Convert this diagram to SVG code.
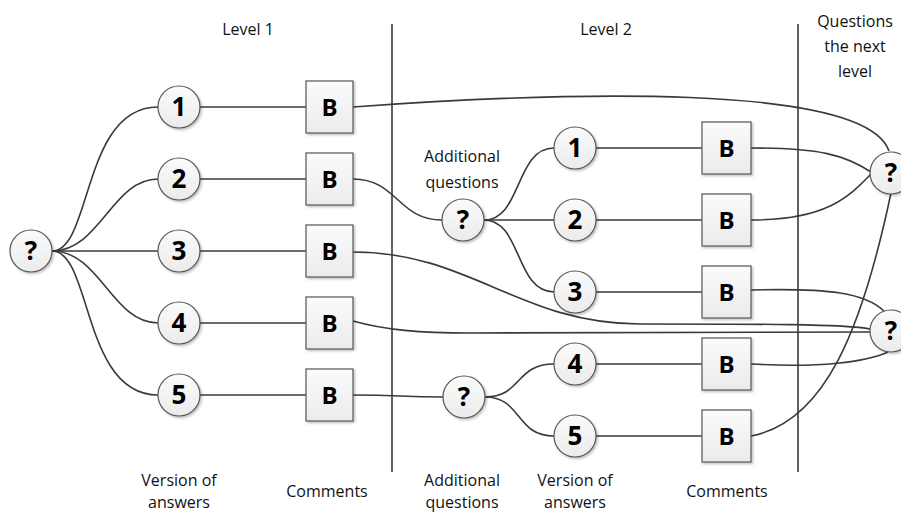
<svg xmlns="http://www.w3.org/2000/svg" width="901" height="513" viewBox="0 0 901 513">
<defs>
  <linearGradient id="gfill" x1="0" y1="0" x2="0" y2="1">
    <stop offset="0" stop-color="#fbfbfb"/>
    <stop offset="1" stop-color="#ebebeb"/>
  </linearGradient>
  <filter id="sh" x="-20%" y="-20%" width="150%" height="150%">
    <feDropShadow dx="1.5" dy="1.5" stdDeviation="1" flood-color="#000" flood-opacity="0.25"/>
  </filter>
  <style>
    .conn path, .conn line { fill: none; stroke: #3a3a3a; stroke-width: 1.6; }
    .div { stroke: #3a3a3a; stroke-width: 1.6; }
    .circ { fill: url(#gfill); stroke: #555; stroke-width: 1.2; filter: url(#sh); }
    .box { fill: url(#gfill); stroke: #555; stroke-width: 1.2; filter: url(#sh); }
    .num { font-family: "Open Sans", "Liberation Sans", sans-serif; font-weight: bold; font-size: 26px; fill: #000; text-anchor: middle; }
    .bl { font-family: "Open Sans", "Liberation Sans", sans-serif; font-weight: bold; font-size: 24px; fill: #000; text-anchor: middle; }
    .lbl { font-family: "Open Sans", "Liberation Sans", sans-serif; font-size: 16px; fill: #111; text-anchor: middle; }
  </style>
</defs>
<rect x="0" y="0" width="901" height="513" fill="#fff"/>

<g id="dividers">
  <line class="div" x1="392" y1="24" x2="392" y2="472"/>
  <line class="div" x1="798" y1="24" x2="798" y2="472"/>
</g>

<g id="labels">
  <text class="lbl" x="248" y="35">Level 1</text>
  <text class="lbl" x="606" y="35">Level 2</text>
  <text class="lbl" x="855" y="27">Questions</text>
  <text class="lbl" x="855" y="52">the next</text>
  <text class="lbl" x="855" y="77">level</text>
  <text class="lbl" x="462" y="162">Additional</text>
  <text class="lbl" x="462" y="188">questions</text>
  <text class="lbl" x="179" y="486">Version of</text>
  <text class="lbl" x="179" y="508">answers</text>
  <text class="lbl" x="327" y="497">Comments</text>
  <text class="lbl" x="462" y="486">Additional</text>
  <text class="lbl" x="462" y="508">questions</text>
  <text class="lbl" x="575" y="486">Version of</text>
  <text class="lbl" x="575" y="508">answers</text>
  <text class="lbl" x="727" y="497">Comments</text>
</g>

<g id="connectors" class="conn">
  <path d="M52,251 C92,251 82,107 158,107"/>
  <path d="M52,251 C100,251 112,179 158,179"/>
  <path d="M52,251 L158,251"/>
  <path d="M52,251 C100,251 112,323 158,323"/>
  <path d="M52,251 C92,251 82,395 158,395"/>
  <line x1="200" y1="107" x2="306" y2="107"/>
  <line x1="200" y1="179" x2="306" y2="179"/>
  <line x1="200" y1="251" x2="306" y2="251"/>
  <line x1="200" y1="323" x2="306" y2="323"/>
  <line x1="200" y1="395" x2="306" y2="395"/>
  <path d="M353,107 C560,92 865,82 889,151"/>
  <path d="M353,179 C397,179 398,220 442,220"/>
  <path d="M353,252 C470,252 520,324 640,324 C760,324 845,324 870,329"/>
  <path d="M353,321 C385,330 420,333 470,333 L870,332"/>
  <path d="M353,395 C400,395 400,397 443,397"/>
  <path d="M484,220 C522,220 515,148 554,148"/>
  <line x1="484" y1="220" x2="554" y2="220"/>
  <path d="M484,220 C522,220 515,292 554,292"/>
  <path d="M485,397 C522,397 515,364 554,364"/>
  <path d="M485,397 C522,397 515,436 554,436"/>
  <line x1="596" y1="148" x2="702" y2="148"/>
  <line x1="596" y1="220" x2="702" y2="220"/>
  <line x1="596" y1="292" x2="702" y2="292"/>
  <line x1="596" y1="364" x2="702" y2="364"/>
  <line x1="596" y1="436" x2="702" y2="436"/>
  <path d="M751,148 C820,148 845,155 871,172"/>
  <path d="M751,220 C825,220 848,198 871,174"/>
  <path d="M751,290 C830,288 865,293 884,311"/>
  <path d="M751,364 C820,368 866,362 888,352"/>
  <path d="M751,436 C825,422 862,330 891,193"/>
</g>

<g id="root-q"><circle class="circ" cx="31" cy="251" r="21"/><text class="num" x="31" y="260">?</text></g>

<g id="l1-a1"><circle class="circ" cx="179" cy="107" r="21"/><text class="num" x="179" y="116">1</text></g>
<g id="l1-a2"><circle class="circ" cx="179" cy="179" r="21"/><text class="num" x="179" y="188">2</text></g>
<g id="l1-a3"><circle class="circ" cx="179" cy="251" r="21"/><text class="num" x="179" y="260">3</text></g>
<g id="l1-a4"><circle class="circ" cx="179" cy="323" r="21"/><text class="num" x="179" y="332">4</text></g>
<g id="l1-a5"><circle class="circ" cx="179" cy="395" r="21"/><text class="num" x="179" y="404">5</text></g>

<g id="l1-b1"><rect class="box" x="306" y="81" width="47" height="52"/><text class="bl" x="329.5" y="116">B</text></g>
<g id="l1-b2"><rect class="box" x="306" y="153" width="47" height="52"/><text class="bl" x="329.5" y="188">B</text></g>
<g id="l1-b3"><rect class="box" x="306" y="225" width="47" height="52"/><text class="bl" x="329.5" y="260">B</text></g>
<g id="l1-b4"><rect class="box" x="306" y="297" width="47" height="52"/><text class="bl" x="329.5" y="332">B</text></g>
<g id="l1-b5"><rect class="box" x="306" y="369" width="47" height="52"/><text class="bl" x="329.5" y="404">B</text></g>

<g id="l2-q1"><circle class="circ" cx="463" cy="220" r="21"/><text class="num" x="463" y="229">?</text></g>
<g id="l2-q2"><circle class="circ" cx="464" cy="397" r="21"/><text class="num" x="464" y="406">?</text></g>

<g id="l2-a1"><circle class="circ" cx="575" cy="148" r="21"/><text class="num" x="575" y="157">1</text></g>
<g id="l2-a2"><circle class="circ" cx="575" cy="220" r="21"/><text class="num" x="575" y="229">2</text></g>
<g id="l2-a3"><circle class="circ" cx="575" cy="292" r="21"/><text class="num" x="575" y="301">3</text></g>
<g id="l2-a4"><circle class="circ" cx="575" cy="364" r="21"/><text class="num" x="575" y="373">4</text></g>
<g id="l2-a5"><circle class="circ" cx="575" cy="436" r="21"/><text class="num" x="575" y="445">5</text></g>

<g id="l2-b1"><rect class="box" x="702" y="122" width="49" height="52"/><text class="bl" x="726.5" y="157">B</text></g>
<g id="l2-b2"><rect class="box" x="702" y="194" width="49" height="52"/><text class="bl" x="726.5" y="229">B</text></g>
<g id="l2-b3"><rect class="box" x="702" y="266" width="49" height="52"/><text class="bl" x="726.5" y="301">B</text></g>
<g id="l2-b4"><rect class="box" x="702" y="338" width="49" height="52"/><text class="bl" x="726.5" y="373">B</text></g>
<g id="l2-b5"><rect class="box" x="702" y="410" width="49" height="52"/><text class="bl" x="726.5" y="445">B</text></g>

<g id="next-q1"><circle class="circ" cx="891" cy="173" r="21"/><text class="num" x="891" y="182">?</text></g>
<g id="next-q2"><circle class="circ" cx="891" cy="331" r="21"/><text class="num" x="891" y="340">?</text></g>
</svg>
